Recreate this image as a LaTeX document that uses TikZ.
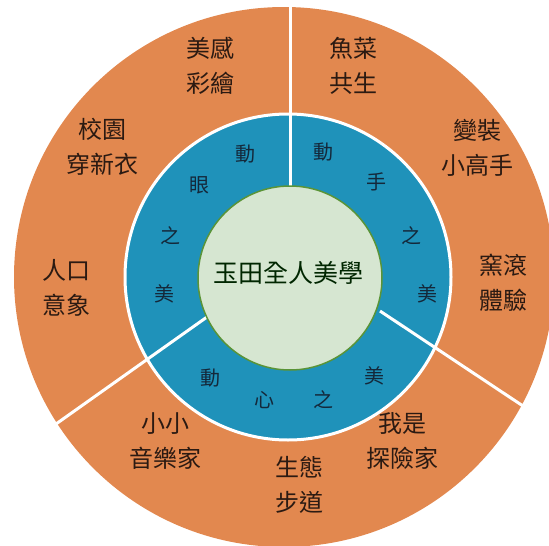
\documentclass[tikz,border=0pt]{standalone}
\usepackage{fontspec}
\usepackage{xcolor}
\usepackage{tikz}
\newfontfamily\cjk{Noto Sans CJK TC}
\definecolor{ringorange}{HTML}{E2884F}
\definecolor{ringblue}{HTML}{1F92BA}
\definecolor{corefill}{HTML}{D6E6D1}
\definecolor{coreline}{HTML}{5A9438}
\definecolor{labelink}{HTML}{2B1A12}
\definecolor{ringink}{HTML}{14283A}

\begin{document}
\begin{tikzpicture}[x=1pt , y=-1pt , line width =3pt ,
   outer/.style={align=center , text=labelink , inner sep=0pt , font=\cjk\fontsize{24}{35}\selectfont},
   ringtxt/.style={text=ringink , inner sep=0pt , font=\cjk\fontsize{20}{20}\selectfont}]
   \useasboundingbox (0 , 0) rectangle (549 , 546);

   % rings
   \fill [ringorange] (284 , 277) circle (270);
   \filldraw [fill=ringblue , draw=white] (288 , 277) circle (163);

   % dividers
   \coordinate (topin) at (290 , 186);
   \coordinate (topout) at (290 , 7);
   \coordinate (rightin) at (380 , 311);
   \coordinate (rightout) at (526 , 408);
   \coordinate (leftin) at (207 , 317);
   \coordinate (leftout) at (56 , 424);
   \draw [white] (topin) -- (topout);
   \draw [white] (rightin) -- (rightout);
   \draw [white] (leftin) -- (leftout);

   \filldraw [fill=corefill , draw=coreline , line width=1.5pt] (290 , 278) circle (92);
   \node [text=black!85!green , inner sep=0pt , font=\cjk\fontsize{25}{25}\selectfont] (core) at (288 , 273) {玉田全人美學};

   % blue ring
   \node [ringtxt] (eye1) at (245 , 154) {動};
   \node [ringtxt] (eye2) at (199 , 185) {眼};
   \node [ringtxt] (eye3) at (170 , 236) {之};
   \node [ringtxt] (eye4) at (164 , 294) {美};
   \node [ringtxt] (hand1) at (323 , 152) {動};
   \node [ringtxt] (hand2) at (376 , 182) {手};
   \node [ringtxt] (hand3) at (411 , 236) {之};
   \node [ringtxt] (hand4) at (427 , 294) {美};
   \node [ringtxt] (heart1) at (210 , 378) {動};
   \node [ringtxt] (heart2) at (264 , 400) {心};
   \node [ringtxt] (heart3) at (323 , 400) {之};
   \node [ringtxt] (heart4) at (374 , 376) {美};

   % orange ring
   \node [outer] (paint) at (210 , 66) {美感\\彩繪};
   \node [outer] (fishveg) at (353 , 66) {魚菜\\共生};
   \node [outer] (campus) at (102 , 147) {校園\\穿新衣};
   \node [outer] (dressup) at (477 , 148) {變裝\\小高手};
   \node [outer] (people) at (66 , 288) {人口\\意象};
   \node [outer] (kiln) at (503 , 283) {窯滾\\體驗};
   \node [outer] (music) at (165 , 441) {小小\\音樂家};
   \node [outer] (trail) at (299 , 485) {生態\\步道};
   \node [outer] (explore) at (402 , 441) {我是\\探險家};
\end{tikzpicture}
\end{document}
